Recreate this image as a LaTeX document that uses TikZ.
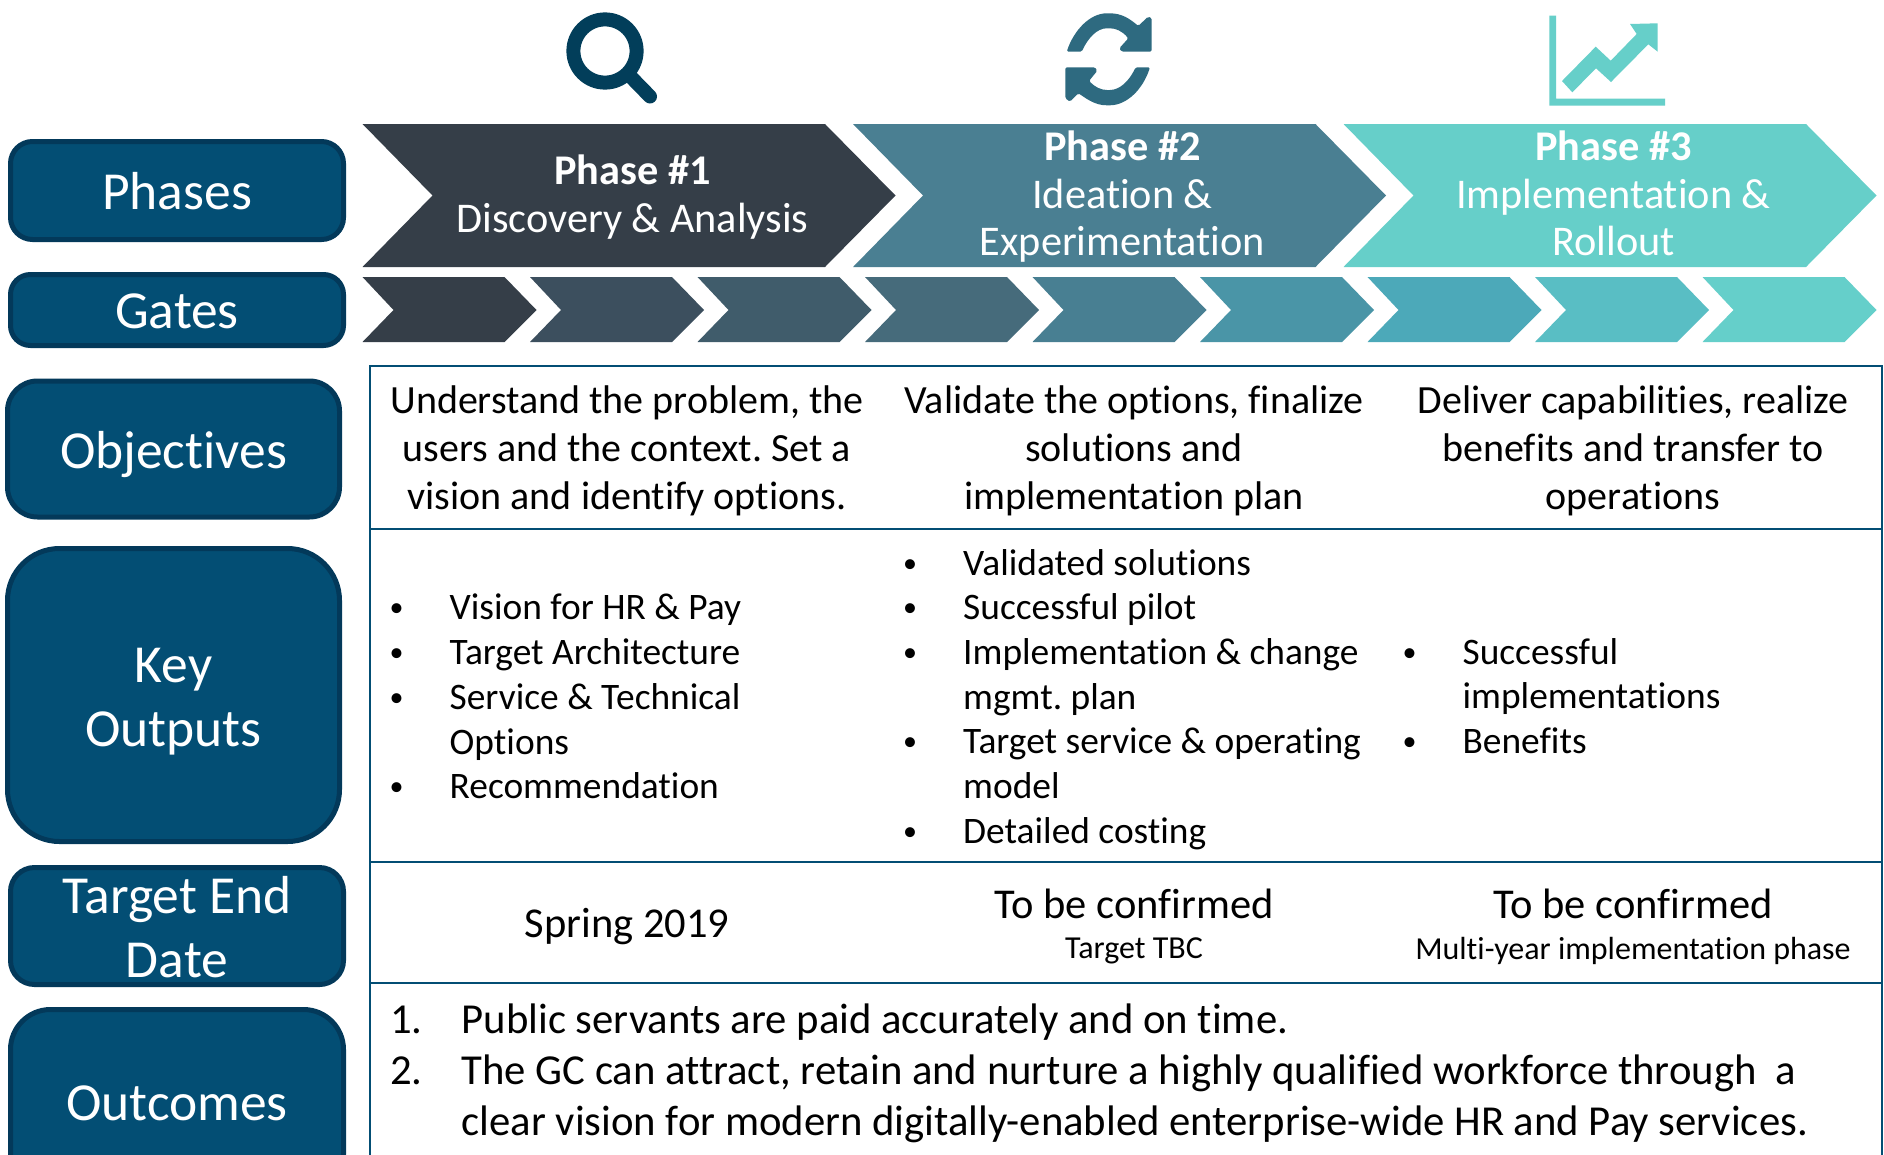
\documentclass[tikz,border=0pt]{standalone}
\usepackage{fontspec}
\setmainfont[Ligatures=NoCommon]{Carlito}
\frenchspacing
\definecolor{navy}{HTML}{034E74}
\definecolor{navyedge}{HTML}{03395A}
\definecolor{iconA}{HTML}{023E5A}
\definecolor{iconB}{HTML}{2E6A80}
\definecolor{iconC}{HTML}{66CFC9}
\definecolor{phA}{HTML}{353E48}
\definecolor{phB}{HTML}{4A7F92}
\definecolor{phC}{HTML}{66CFC9}
\definecolor{gA}{HTML}{353E48}
\definecolor{gB}{HTML}{3C4F5E}
\definecolor{gC}{HTML}{405C6B}
\definecolor{gD}{HTML}{466B7B}
\definecolor{gE}{HTML}{487F92}
\definecolor{gF}{HTML}{4A95A7}
\definecolor{gG}{HTML}{4CA9B9}
\definecolor{gH}{HTML}{59BEC4}
\definecolor{gI}{HTML}{65CFCA}
\newcommand{\fsz}[2]{\fontsize{#1}{#2}\selectfont}
\newcommand{\bul}{\makebox[60pt][l]{{\fontsize{28}{28}\selectfont\raisebox{3pt}{•}}}}
\newcommand{\cnt}{\hspace*{60pt}}
\newcommand{\bigchev}[2]{\fill[#2] (#1,124) -- (#1+462.5,124) -- (#1+533,195.5) -- (#1+462.5,267) -- (#1,267) -- (#1+70,195.5) -- cycle;}
\newcommand{\gatechev}[2]{\fill[#2] (#1,277) -- (#1+142,277) -- (#1+174,310) -- (#1+142,342) -- (#1,342) -- (#1+31,310) -- cycle;}
\tikzset{
  x=1pt,y=-1pt,
  label box/.style={draw=navyedge,fill=navy,line width=5pt,inner sep=0pt},
  label text/.style={text=white,align=center,inner sep=0pt,font=\fsz{53.5}{64}},
  phase text/.style={text=white,align=center,inner sep=0pt,font=\fsz{42.3}{47.5}},
  cell/.style={align=center,inner sep=0pt,font=\fsz{40}{48}},
  datecell/.style={align=center,inner sep=0pt,font=\fsz{42.5}{48}},
  subcell/.style={align=center,inner sep=0pt,font=\fsz{32}{36}},
  bullets/.style={align=left,anchor=north west,inner sep=0pt,font=\fsz{37.4}{44.7}},
  rule/.style={draw=navy,line width=2pt},
}
\begin{document}
\begin{tikzpicture}
\useasboundingbox (0,0) rectangle (1884,1154);
\clip (0,0) rectangle (1884,1154);
\fill[white] (0,0) rectangle (1884,1154);
% icons
\draw[iconA,line width=14pt] (605,51) circle (31.6);
\draw[iconA,line width=14pt,line cap=round] (630,76) -- (650,96.5);
\fill[iconB,rounded corners=1.5pt] (1066.7,51.7) .. controls (1074,30) and (1090,13.3) .. (1108.3,13.3)
  .. controls (1122,13.3) and (1130,19) .. (1138.3,26) -- (1148,16.7) -- (1151.7,18) -- (1151.7,51.7)
  -- (1121.7,51.7) -- (1119.3,48.3) -- (1128.3,38.3) .. controls (1122,31) and (1116,28.3) .. (1108.3,28.3)
  .. controls (1097,28.3) and (1088,38) .. (1081.7,51.7) -- cycle;
\fill[iconB,rounded corners=1.5pt] (1150,67.3) .. controls (1143,89) and (1127,105.3) .. (1108.3,105.3)
  .. controls (1095,105.3) and (1087,99) .. (1078.3,93.3) -- (1070,101.7) -- (1065.3,98.3) -- (1065.3,67.3)
  -- (1095,67.3) -- (1097.3,70.7) -- (1089,81) .. controls (1095,87) and (1101,90) .. (1108.3,90)
  .. controls (1120,90) and (1129,81) .. (1135.7,67.3) -- cycle;
\fill[iconC] (1549.3,15.7) -- (1556,15.7) -- (1556,98.7) -- (1665,98.7) -- (1665,105.7) -- (1549.3,105.7) -- cycle;
\fill[iconC] (1562,81) -- (1595.7,46.7) -- (1610.7,60.7) -- (1636.7,34) -- (1630,24) -- (1657.7,23.3)
  -- (1657.7,51.7) -- (1648.3,44.3) -- (1611,82) -- (1596,68.3) -- (1572.3,92.3) -- cycle;
% phase chevrons
\bigchev{362.5}{phA}
\bigchev{853}{phB}
\bigchev{1343.5}{phC}
\node[phase text] (ph1) at (632.5,199) {\strut\textbf{Phase \#1}\\Discovery \& Analysis\strut};
\node[phase text] (ph2) at (1122.5,198.5) {\strut\textbf{Phase \#2}\\Ideation \&\\Experimentation\strut};
\node[phase text] (ph3) at (1613.5,198.5) {\strut\textbf{Phase \#3}\\Implementation \&\\Rollout\strut};
% gate chevrons
\gatechev{362.5}{gA}
\gatechev{530}{gB}
\gatechev{697.5}{gC}
\gatechev{865}{gD}
\gatechev{1032.5}{gE}
\gatechev{1200}{gF}
\gatechev{1367.5}{gG}
\gatechev{1535}{gH}
\gatechev{1702.5}{gI}
% left labels
\node[label box,rounded corners=22pt,minimum width=333pt,minimum height=98pt] (phases) at (177,190.5) {};
\node[label box,rounded corners=20pt,minimum width=333pt,minimum height=71pt] (gates) at (177,310) {};
\node[label box,rounded corners=30pt,minimum width=332pt,minimum height=136pt] (objectives) at (173.5,449) {};
\node[label box,rounded corners=52pt,minimum width=332pt,minimum height=293pt] (keyout) at (173.5,695) {};
\node[label box,rounded corners=24pt,minimum width=333pt,minimum height=117pt] (target) at (177,926) {};
\node[label box,rounded corners=40pt,minimum width=333pt,minimum height=185pt] (outcomes) at (177,1102) {};
\node[label text] (phasest) at (177,196.5) {\strut Phases\strut};
\node[label text] (gatest) at (177,316) {\strut Gates\strut};
\node[label text] (objectivest) at (173.5,456) {\strut Objectives\strut};
\node[label text] (keyoutt) at (173.5,702) {\strut Key\\Outputs\strut};
\node[label text] (targett) at (177,933) {\strut Target End\\Date\strut};
\node[label text] (outcomest) at (177,1108) {\strut Outcomes\strut};
% table
\draw[rule] (370,1160) -- (370,366) -- (1882,366) -- (1882,1160);
\draw[rule] (370,529) -- (1882,529);
\draw[rule] (370,862) -- (1882,862);
\draw[rule] (370,983) -- (1882,983);
% objectives
\node[cell] (obj1) at (627,451) {Understand the problem, the\\users and the context. Set a\\vision and identify options.};
\node[cell] (obj2) at (1134,451) {Validate the options, finalize\\solutions and\\implementation plan};
\node[cell] (obj3) at (1633,451) {Deliver capabilities, realize\\benefits and transfer to\\operations};
% key outputs
\node[bullets] (out1) at (389.5,594) {\bul Vision for HR \& Pay\\\bul Target Architecture\\\bul Service \& Technical\\\cnt Options\\\bul Recommendation};
\node[bullets] (out2) at (903,549) {\bul Validated solutions\\\bul Successful pilot\\\bul Implementation \& change\\\cnt mgmt. plan\\\bul Target service \& operating\\\cnt model\\\bul Detailed costing};
\node[bullets] (out3) at (1402.4,638) {\bul Successful\\\cnt implementations\\\bul Benefits};
% target end date
\node[datecell] (spring) at (627,927) {Spring 2019};
\node[datecell] (tbc2) at (1134,904) {To be confirmed};
\node[subcell] (sub2) at (1134,951) {Target TBC};
\node[datecell] (tbc3) at (1633,904) {To be confirmed};
\node[subcell] (sub3) at (1633,951) {Multi-year implementation phase};
% outcomes
\node[align=left,anchor=north west,inner sep=0pt,font=\fsz{42.7}{51}] (goals) at (390,1004) {\makebox[71.5pt][l]{1.}Public servants are paid accurately and on time.\\\makebox[71.5pt][l]{2.}The GC can attract, retain and nurture a highly qualified workforce through\ \ a\\\hspace*{71.5pt}clear vision for modern digitally-enabled enterprise-wide HR and Pay services.};
\end{tikzpicture}
\end{document}
